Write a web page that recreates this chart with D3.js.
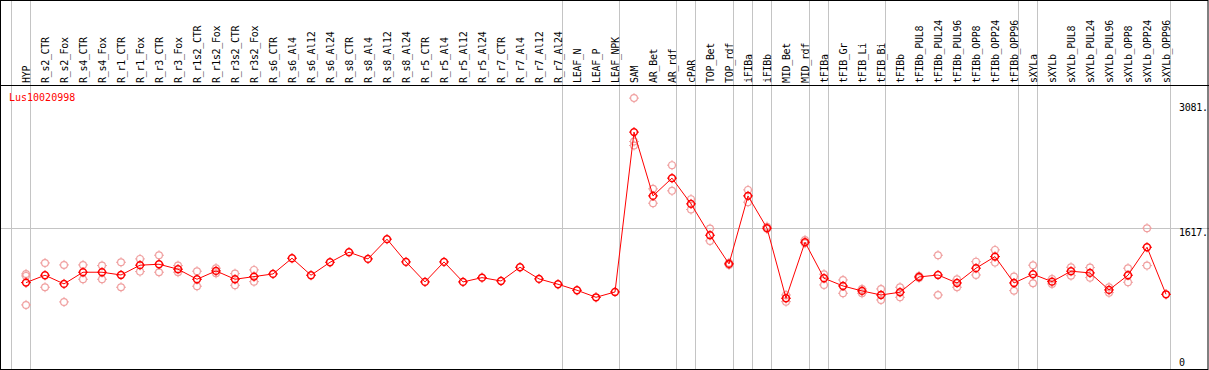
<!DOCTYPE html>
<html>
<head>
<meta charset="utf-8">
<script src="https://cdn.jsdelivr.net/npm/d3@7"></script>
<style>
  body { margin: 0; background: #fff; }
  svg { display: block; }
  text { font-family: "DejaVu Sans Mono", monospace; font-size: 10px; }
</style>
</head>
<body>
<svg id="chart" width="1209" height="370"></svg>
<script>
const categories = [
  'HYP', 'R_s2_CTR', 'R_s2_Fox', 'R_s4_CTR', 'R_s4_Fox', 'R_r1_CTR', 'R_r1_Fox',
  'R_r3_CTR', 'R_r3_Fox', 'R_r1s2_CTR', 'R_r1s2_Fox', 'R_r3s2_CTR', 'R_r3s2_Fox',
  'R_s6_CTR', 'R_s6_Al4', 'R_s6_Al12', 'R_s6_Al24', 'R_s8_CTR', 'R_s8_Al4',
  'R_s8_Al12', 'R_s8_Al24', 'R_r5_CTR', 'R_r5_Al4', 'R_r5_Al12', 'R_r5_Al24',
  'R_r7_CTR', 'R_r7_Al4', 'R_r7_Al12', 'R_r7_Al24', 'LEAF_N', 'LEAF_P', 'LEAF_NPK',
  'SAM', 'AR_Bet', 'AR_rdf', 'cPAR', 'TOP_Bet', 'TOP_rdf', 'iFIBa', 'iFIBb',
  'MID_Bet', 'MID_rdf', 'tFIBa', 'tFIB_Gr', 'tFIB_Li', 'tFIB_Bi', 'tFIBb',
  'tFIBb_PUL8', 'tFIBb_PUL24', 'tFIBb_PUL96', 'tFIBb_OPP8', 'tFIBb_OPP24', 'tFIBb_OPP96',
  'sXYLa', 'sXYLb', 'sXYLb_PUL8', 'sXYLb_PUL24', 'sXYLb_PUL96', 'sXYLb_OPP8',
  'sXYLb_OPP24', 'sXYLb_OPP96',
];

// mean expression per sample
const means = [
  983, 1069, 968, 1104, 1104, 1072, 1186, 1197, 1139, 1022, 1119, 1022, 1053,
  1084, 1267, 1069, 1220, 1337, 1259, 1489, 1224, 991, 1224, 991, 1041,
  1002, 1162, 1026, 964, 894, 812, 874,
  2736, 1993, 2200, 1900, 1535, 1201, 1993, 1617, 801, 1454,
  1034, 944, 886, 839, 871, 1049, 1072, 979, 1151, 1286, 979,
  1081, 994, 1116, 1096, 898, 1069, 1395, 847,
];

// replicate values per sample (empty where none shown)
const replicates = [
  [1084, 1061, 723], [1212, 929], [1189, 758], [1189, 1022], [1181, 1022],
  [1220, 929], [1259, 1111], [1302, 1104], [1181, 1104], [1116, 941],
  [1151, 1092], [1088, 952], [1131, 994],
  [], [], [], [], [], [], [], [], [], [], [], [], [], [], [], [], [], [], [],
  [3132, 2626, 2580], [2075, 1908], [2351, 2052], [1955, 1834], [1612, 1469],
  [1213, 1189], [2063, 1920], [1635, 1609], [839, 761], [1480, 1442],
  [1081, 956], [1014, 859], [909, 859], [909, 781], [929, 812],
  [1061, 1037], [1302, 839], [1022, 929], [1227, 1072], [1364, 1216], [1053, 889],
  [1186, 976], [1026, 968], [1162, 1064], [1158, 1041], [929, 866], [1151, 987],
  [1617, 1181], [],
];

// last sample of each block, a separator follows it
const groupEnds = [
  'HYP', 'R_r7_Al24', 'LEAF_NPK', 'AR_rdf', 'cPAR', 'TOP_rdf', 'iFIBa', 'iFIBb',
  'MID_rdf', 'tFIBa', 'tFIB_Bi', 'tFIBb_OPP96', 'sXYLa', 'sXYLb_OPP96',
];

const yTicks = [0, 1617, 3081];
const geneName = 'Lus10020998';

const width = 1209;
const height = 370;
const headerY = 85.5;
const plotBottom = 369;
const red = '#ff0000';
const pink = '#f0a0a0';
const grey = '#c4c4c4';

const svg = d3.select('#chart');

const x = d3.scalePoint().domain(categories).range([26, 1166]);
const step = x.step();
const y = d3.scaleLinear().domain([0, 3081]).range([367, 102.5]);

// horizontal grid line at the middle tick
svg.append('line')
  .attr('x1', 0).attr('x2', width)
  .attr('y1', Math.round(y(1617)) + 0.5).attr('y2', Math.round(y(1617)) + 0.5)
  .attr('stroke', grey);

// block separators
const sepX = [x(categories[0]) - step + 4.2].concat(groupEnds.map((g) => x(g) + 4.2));
svg.selectAll('line.sep')
  .data(sepX)
  .join('line')
  .attr('class', 'sep')
  .attr('x1', (d) => Math.round(d) + 0.5).attr('x2', (d) => Math.round(d) + 0.5)
  .attr('y1', 0).attr('y2', plotBottom)
  .attr('stroke', grey);

// header labels
svg.selectAll('text.cat')
  .data(categories)
  .join('text')
  .attr('class', 'cat')
  .attr('transform', (d) => `translate(${x(d) + 3.8},83) rotate(-90)`)
  .attr('letter-spacing', '-0.3')
  .attr('fill', '#000')
  .text((d) => d);

// header separator and frame
svg.append('line')
  .attr('x1', 0).attr('x2', width)
  .attr('y1', headerY).attr('y2', headerY)
  .attr('stroke', '#000');
svg.append('rect')
  .attr('x', 0.5).attr('y', 0.5)
  .attr('width', width - 1.5).attr('height', plotBottom)
  .attr('fill', 'none')
  .attr('stroke', '#000');

// gene name
svg.append('text')
  .attr('x', 9).attr('y', 101)
  .attr('fill', red)
  .text(geneName);

// y labels
svg.selectAll('text.ylab')
  .data(yTicks)
  .join('text')
  .attr('class', 'ylab')
  .attr('x', 1179)
  .attr('y', (d) => (d === 0 ? 365.5 : y(d) + 8.2))
  .attr('letter-spacing', '-0.3')
  .attr('fill', '#000')
  .text((d) => (d === 0 ? '0' : d + '.'));

const marker = (g, cx, cy, color, sw) => {
  const r = 3.4;
  g.append('circle')
    .attr('cx', cx).attr('cy', cy).attr('r', r)
    .attr('fill', 'none')
    .attr('stroke', color)
    .attr('stroke-width', sw);
  [[0, -1], [0, 1], [-1, 0], [1, 0]].forEach(([dx, dy]) => {
    g.append('line')
      .attr('x1', cx + dx * r).attr('y1', cy + dy * r)
      .attr('x2', cx + dx * (r + 1.6)).attr('y2', cy + dy * (r + 1.6))
      .attr('stroke', color)
      .attr('stroke-width', 1);
  });
};

// replicate points
const repG = svg.append('g');
replicates.forEach((vals, i) => {
  vals.forEach((v) => marker(repG, x(categories[i]), y(v), pink, 1.2));
});

// mean line
const line = d3.line()
  .x((d, i) => x(categories[i]))
  .y((d) => y(d));
svg.append('path')
  .datum(means)
  .attr('d', line)
  .attr('fill', 'none')
  .attr('stroke', red)
  .attr('stroke-width', 1);

const meanG = svg.append('g');
means.forEach((v, i) => marker(meanG, x(categories[i]), y(v), red, 1.5));
</script>
</body>
</html>
